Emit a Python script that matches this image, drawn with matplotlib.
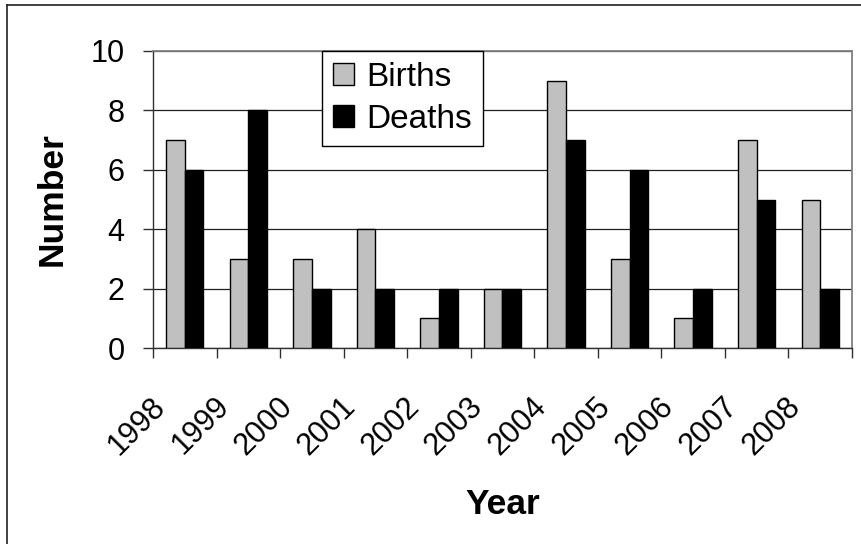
import numpy as np
import matplotlib
matplotlib.use("Agg")
import matplotlib.pyplot as plt
import matplotlib.transforms as mtransforms
from matplotlib.lines import Line2D

plt.rcParams["font.family"] = ["Liberation Sans", "DejaVu Sans"]

years = ["1998", "1999", "2000", "2001", "2002", "2003", "2004", "2005", "2006", "2007", "2008"]
births = [7, 3, 3, 4, 1, 2, 9, 3, 1, 7, 5]
deaths = [6, 8, 2, 2, 2, 2, 7, 6, 2, 5, 2]

W, H = 862, 544
fig = plt.figure(figsize=(W / 100, H / 100), dpi=100)
ax = fig.add_axes([153 / W, 1 - 348 / H, (852 - 153) / W, (348 - 51) / H])

x = np.arange(len(years))
bw = 0.294
ax.bar(x - bw / 2, births, bw, color="#c0c0c0", edgecolor="black", linewidth=1.0, label="Births", zorder=3)
ax.bar(x + bw / 2, deaths, bw, color="black", edgecolor="black", linewidth=1.0, label="Deaths", zorder=3)

ax.set_xlim(-0.5, len(years) - 0.5)
ax.set_ylim(0, 10)
ax.set_yticks(np.arange(0, 11, 2))
ax.tick_params(axis="y", labelsize=22, length=7.5, width=1, color="#303030", pad=13)
ax.yaxis.grid(True, color="#202020", linewidth=0.9)
ax.set_axisbelow(True)

# category boundaries get the tick marks, centres get the (rotated) labels
ax.set_xticks(np.arange(-0.5, len(years), 1.0))
ax.set_xticklabels([])
ax.tick_params(axis="x", which="major", length=7.5, width=1, color="#303030")
ax.set_xticks(x, minor=True)
ax.set_xticklabels(years, minor=True, rotation=45, ha="right", va="center",
                   rotation_mode="anchor", fontsize=22)
ax.tick_params(axis="x", which="minor", length=0, pad=0)
off = mtransforms.ScaledTranslation(-24 / 100, -54 / 100, fig.dpi_scale_trans)
for lab in ax.get_xticklabels(minor=True):
    lab.set_transform(lab.get_transform() + off)

for s in ("left", "bottom"):
    ax.spines[s].set_color("#303030"); ax.spines[s].set_linewidth(1.0)
for s in ("top", "right"):
    ax.spines[s].set_color("#808080"); ax.spines[s].set_linewidth(1.3)

ax.set_ylabel("Number", fontsize=25.5, fontweight="bold")
ax.yaxis.set_label_coords((69 - 153) / 699, 0.5)
ax.set_xlabel("Year", fontsize=25.5, fontweight="bold")
ax.xaxis.set_label_coords(0.5, (348 - 488) / 297)

leg = ax.legend(loc="upper left", bbox_to_anchor=((322 - 153) / 699, 1.0), borderaxespad=0,
                fontsize=24, handlelength=0.63, handleheight=0.63, handletextpad=0.36,
                labelspacing=0.33, borderpad=0.33, fancybox=False, framealpha=1)
leg.get_frame().set_edgecolor("black"); leg.get_frame().set_linewidth(1.0)

# outer chart border (only left and top edges are inside the picture)
fig.add_artist(Line2D([7 / W, 7 / W], [0, 1 - 5 / H], color="#202020", linewidth=1.2))
fig.add_artist(Line2D([7 / W, 1], [1 - 5 / H, 1 - 5 / H], color="#202020", linewidth=1.2))

fig.savefig("out.png", dpi=100)
